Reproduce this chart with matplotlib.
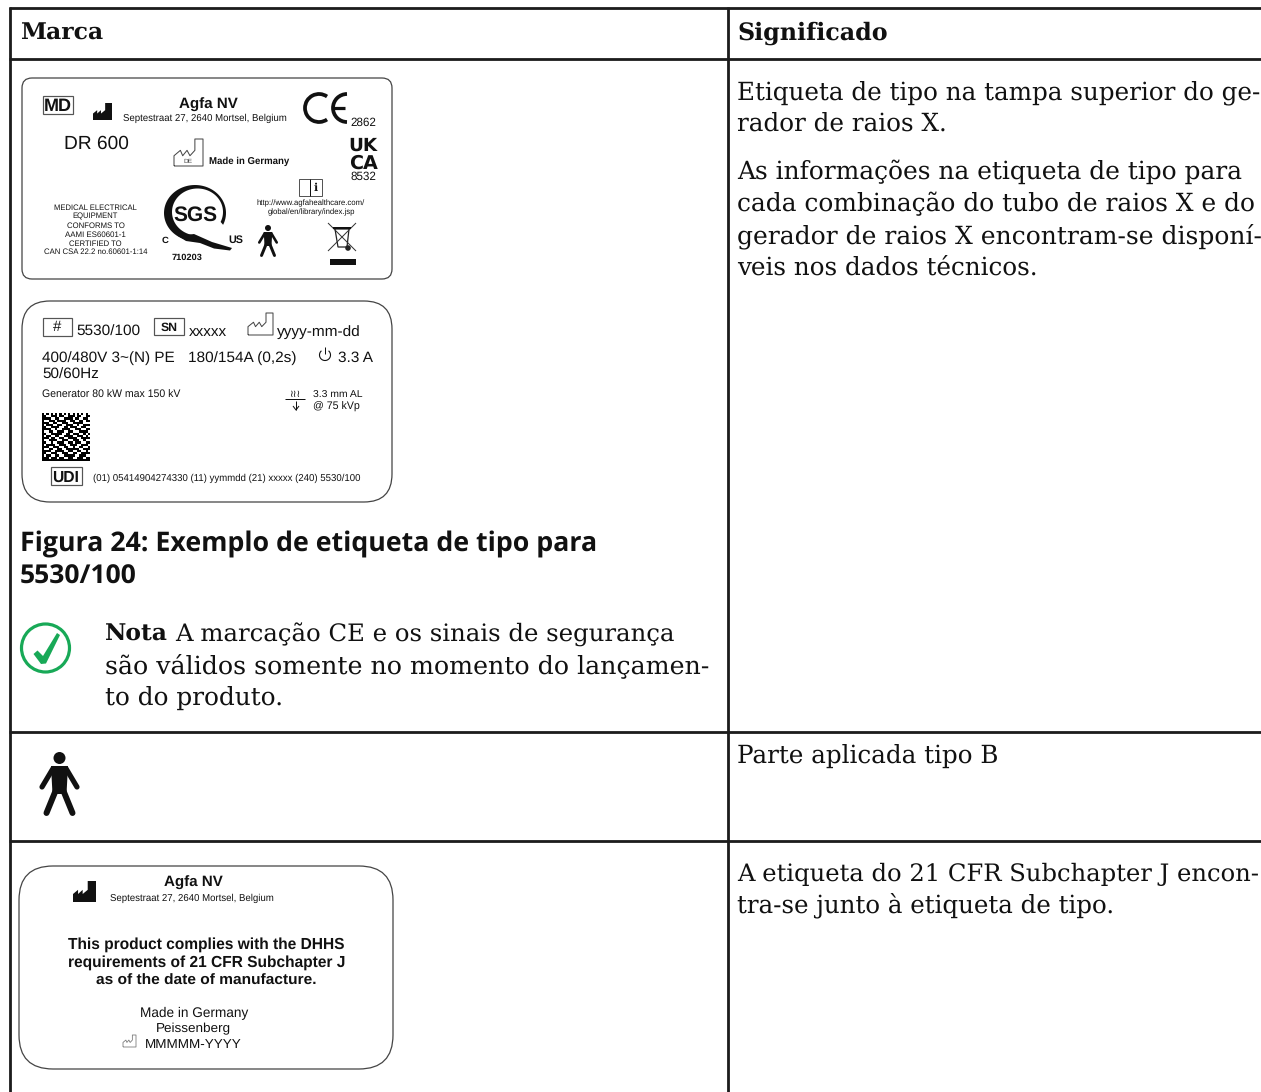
import matplotlib
matplotlib.use("Agg")
import matplotlib.pyplot as plt
from matplotlib.patches import FancyBboxPatch, Circle, Rectangle, Polygon, Arc
from matplotlib.lines import Line2D
import numpy as np

plt.rcParams["text.hinting"] = "no_hinting"

W, H = 1261, 1092
SERIF = "DejaVu Serif"
SANS = "Liberation Sans"
CAPTION_FONT = "Open Sans"

headers = ["Marca", "Significado"]
row_lines = [8, 59, 732, 841]
col_lines = [10, 728]
caption = ["Figura 24: Exemplo de etiqueta de tipo para", "5530/100"]
note_bold = "Nota"
note_lines = ["A marcação CE e os sinais de segurança", "são válidos somente no momento do lançamen-", "to do produto."]
right_1a = ["Etiqueta de tipo na tampa superior do ge-", "rador de raios X."]
right_1b = ["As informações na etiqueta de tipo para", "cada combinação do tubo de raios X e do", "gerador de raios X encontram-se disponí-", "veis nos dados técnicos."]
right_2 = ["Parte aplicada tipo B"]
right_3 = ["A etiqueta do 21 CFR Subchapter J encon-", "tra-se junto à etiqueta de tipo."]
medical = ["MEDICAL ELECTRICAL", "EQUIPMENT", "CONFORMS TO", "AAMI ES60601-1", "CERTIFIED TO", "CAN CSA 22.2 no.60601-1:14"]
dhhs = ["This product complies with the DHHS", "requirements of 21 CFR Subchapter J", "as of the date of manufacture."]
matrix = [
 "1010101010101010101010",
 "1100111011001110110011",
 "1111001100111101100110",
 "1001110111100110011011",
 "1110011001110011111000",
 "1011100110011100100111",
 "1100111100110111001100",
 "1111001001111001110011",
 "1001100111001100011110",
 "1100111110011011100101",
 "1011001100111100111010",
 "1110110011001111001111",
 "1001111001110011100100",
 "1100100111001101110011",
 "1011110011100111001110",
 "1110011100110010011001",
 "1001100110011111100111",
 "1111001111001100110010",
 "1100111001110011001111",
 "1011001100111110011100",
 "1110111011001100111011",
 "1111111111111111111111"]

fig = plt.figure(figsize=(W/100, H/100), dpi=100)
ax = fig.add_axes([0, 0, 1, 1])
ax.set_xlim(0, W); ax.set_ylim(H, 0); ax.axis("off")
renderer = fig.canvas.get_renderer()

def T(x, y, s, px, font=SANS, bold=False, ha="left", color="#111111", w=None, **kw):
    t = ax.text(x, y + 0.36*px, s, fontsize=px*0.72, family=font,
                weight="bold" if bold else "normal", ha=ha, va="baseline", color=color, **kw)
    if w is not None:
        for _ in range(3):
            t.set_fontsize(t.get_fontsize() * w / t.get_window_extent(renderer).width)
    return t

def L(xs, ys, lw=1.0, color="#111111", **kw):
    ax.add_line(Line2D(xs, ys, lw=lw*0.72, color=color, solid_capstyle=kw.pop("cap", "butt"), **kw))

def card(x0, y0, x1, y1, r, color="#444444"):
    ax.add_patch(FancyBboxPatch((x0+r, y0+r), x1-x0-2*r, y1-y0-2*r, boxstyle=f"round,pad={r},rounding_size={r}",
                                fc="white", ec=color, lw=0.9))

def box(x0, y0, x1, y1, color="#555555", lw=1.2):
    ax.add_patch(Rectangle((x0, y0), x1-x0, y1-y0, fc="white", ec=color, lw=lw*0.72))

def factory_solid(x0, y0, x1, y1):
    w, h = x1-x0, y1-y0
    pts = [(0,1),(0,.62),(.22,.42),(.22,.62),(.42,.42),(.42,.62),(.64,.42),(.64,0),(1,0),(1,1)]
    ax.add_patch(Polygon([(x0+a*w, y0+b*h) for a,b in pts], fc="#111111", ec="none"))

def factory_outline(x0, y0, x1, y1, color="#444444", lw=1.0):
    w, h = x1-x0, y1-y0
    pts = [(0,1),(0,.62),(.22,.42),(.3,.62),(.45,.42),(.55,.62),(.72,.42),(.72,0),(1,0),(1,1),(0,1)]
    L([x0+a*w for a,b in pts], [y0+b*h for a,b in pts], lw=lw, color=color)

def person(cx, y0, y1, lw):
    s = (y1-y0)/64
    ax.add_patch(Circle((cx, y0+6*s), 6*s, fc="#111111", ec="none"))
    ax.add_patch(Polygon([(cx-8.5*s, y0+14*s),(cx+8.5*s, y0+14*s),(cx+7*s, y0+42*s),(cx-7*s, y0+42*s)], fc="#111111", ec="none"))
    L([cx-6.5*s, cx-17.5*s], [y0+16.5*s, y0+35*s], lw=lw, cap="round")
    L([cx+6.5*s, cx+17.5*s], [y0+16.5*s, y0+35*s], lw=lw, cap="round")
    L([cx-3.6*s, cx-13*s], [y0+38*s, y0+61*s], lw=lw*1.15, cap="round")
    L([cx+3.6*s, cx+13*s], [y0+38*s, y0+61*s], lw=lw*1.15, cap="round")

# ---- table grid
for y in row_lines:
    L([8.5, W], [y, y], lw=2.8, color="#1c1c1c")
for x in col_lines:
    L([x, x], [7, H], lw=2.8, color="#1c1c1c")

BODY = 25
T(20, 31, headers[0], BODY, SERIF, True, w=83)
T(737, 31, headers[1], BODY, SERIF, True, w=150)
right_blocks = (((90, 122), right_1a, (523, 210)),
                ((170, 202, 234, 266), right_1b, (506, 516, 523, 300)),
                ((754,), right_2, (262,)),
                ((872, 904), right_3, (523, 378)))
for ys, lines, ws in right_blocks:
    for y, s, tw in zip(ys, lines, ws):
        T(737, y, s, BODY, SERIF, w=tw)

for y, s, tw in zip((542, 574), caption, (577, 117)):
    T(20, y, s, 27, CAPTION_FONT, True, w=tw)

T(105, 632, note_bold, BODY, SERIF, True, w=63)
T(175, 632, note_lines[0], BODY, SERIF, w=500)
T(105, 664, note_lines[1], BODY, SERIF, w=603)
T(105, 696, note_lines[2], BODY, SERIF, w=178)

ax.add_patch(Circle((45.5, 648), 24, fc="white", ec="#18a957", lw=2.3))
ax.add_patch(Polygon([(33.5,654),(37.5,650.5),(43,656),(57,633),(60,635),(46,663.5),(41,664)], fc="#18a957", ec="none"))

person(59.5, 752, 816, 5.2)

# ---- card 1
card(22, 78, 392, 279, 10)
box(42.5, 95.5, 73, 114)
T(57.5, 105, "MD", 18, SANS, True, ha="center", w=28)
factory_solid(93, 103, 112, 120)
T(208.5, 103, "Agfa NV", 15, SANS, True, ha="center", w=59)
T(204.5, 117.5, "Septestraat 27, 2640 Mortsel, Belgium", 10, ha="center", w=163)
ax.add_patch(Arc((319, 108), 28, 28, theta1=55, theta2=305, lw=2.7, color="#111111"))
ax.add_patch(Arc((347, 108), 28, 28, theta1=90, theta2=270, lw=2.7, color="#111111"))
L([333, 345], [108, 108], lw=3.2)
T(350, 122, "2862", 12, w=26)
T(64, 142, "DR 600", 19.5, w=65)
factory_outline(174, 139, 203, 166)
T(188, 160.5, "DE", 6.5, ha="center", color="#444444")
T(209, 160, "Made in Germany", 9.8, SANS, True, w=80)
T(363, 144, "UK", 20, "DejaVu Sans", True, ha="center", w=29)
T(363, 161.5, "CA", 20, "DejaVu Sans", True, ha="center", w=29)
T(363, 176, "8532", 12, ha="center", w=26)
box(299, 179, 322, 196, lw=1)
L([310, 310], [179, 196], lw=1)
T(316, 187.5, "i", 11, SERIF, True, ha="center")
T(311, 202, "http://www.agfahealthcare.com/", 8, ha="center", w=108)
T(311, 211, "global/en/library/index.jsp", 8, ha="center", w=87)
for y, s, tw in zip((207.5, 216, 225, 234, 243, 251.5), medical, (83, 45, 58, 61, 53, 103)):
    T(95.5, y, s, 8, ha="center", w=tw)
# Q of the SGS mark
th = np.radians(np.linspace(25, -262, 80))
th2 = th[::-1]
ring = np.r_[np.c_[195 + 31*np.cos(th), 213 + 28*np.sin(th)], np.c_[197.5 + 25.5*np.cos(th2), 212 + 23.5*np.sin(th2)]]
ax.add_patch(Polygon(ring, fc="#111111", ec="none"))
ax.add_patch(Polygon([(178,236),(194,234),(212,242),(232,248),(230,250.5),(214,248.5),(200,243),(186,241)], fc="#111111", ec="none"))
T(195, 212, "SGS", 24, SANS, True, ha="center", w=44)
T(165, 239, "C", 9.5, SANS, True, ha="center")
T(236, 239, "US", 10.5, SANS, True, ha="center", w=15)
T(187, 256, "710203", 9.5, SANS, True, ha="center", w=31)
person(268, 225, 257, 2.6)
L([328, 356], [223, 251], lw=1, color="#333333")
L([356, 328], [223, 251], lw=1, color="#333333")
ax.add_patch(Polygon([(335,229),(349,229),(347,247),(338,247)], fc="none", ec="#222222", lw=0.9))
L([333, 351], [228, 228], lw=2)
ax.add_patch(Circle((348, 248), 2.8, fc="#222222", ec="none"))
ax.add_patch(Rectangle((330, 258.5), 26, 6.5, fc="#111111", ec="none"))

# ---- card 2
card(22, 301, 392, 502, 28)
box(42.5, 317.5, 72, 336)
T(57, 326, "#", 15, ha="center")
T(76, 330, "5530/100", 15, w=64)
box(153.5, 317.5, 184, 335)
T(169, 326, "SN", 12.5, SANS, True, ha="center", w=17)
T(189, 331, "xxxxx", 15, w=38)
factory_outline(248, 313, 273, 335, lw=1)
T(277, 330, "yyyy-mm-dd", 15, w=84)
T(42, 356, "400/480V 3~(N) PE", 15, w=133)
T(188, 356, "180/154A (0,2s)", 15, w=109)
ax.add_patch(Arc((325, 355), 11, 11, theta1=-50, theta2=230, lw=0.8, color="#111111"))
L([325, 325], [347, 354], lw=1)
T(338, 356, "3.3 A", 15, w=35)
T(42, 373, "50/60Hz", 15, w=57)
T(42, 394, "Generator 80 kW max 150 kV", 10.4, w=139)
L([285, 305], [399, 399], lw=1)
T(296, 393, "≀≀≀", 10, "DejaVu Sans", ha="center")
L([296, 296], [401, 410], lw=1)
L([293, 296, 299], [406, 410, 406], lw=1)
T(313, 394, "3.3 mm AL", 10.4, w=50)
T(313, 406, "@ 75 kVp", 10.4, w=47)
ax.imshow(np.array([[1-int(c) for c in r] for r in matrix]), cmap="gray", extent=(42, 90, 461, 413),
          interpolation="nearest", aspect="auto", zorder=2)
ax.set_xlim(0, W); ax.set_ylim(H, 0)
box(50.5, 467, 82, 485)
T(66, 476, "UDI", 15.5, SANS, True, ha="center", w=27)
T(93, 478, "(01) 05414904274330 (11) yymmdd (21) xxxxx (240) 5530/100", 9.5, w=267)

# ---- card 3
card(19, 866, 393, 1069, 34)
factory_solid(73, 881, 96, 902)
T(193, 881, "Agfa NV", 16, SANS, True, ha="center", w=59)
T(191.5, 897, "Septestraat 27, 2640 Mortsel, Belgium", 10, ha="center", w=163)
for y, s, tw in zip((943, 961, 979), dhhs, (276, 277, 220)):
    T(206.5, y, s, 15.2, SANS, True, ha="center", w=tw)
T(194, 1012, "Made in Germany", 14, ha="center", w=108)
T(193.5, 1027.5, "Peissenberg", 14, ha="center", w=75)
factory_outline(123, 1035, 136, 1047, color="#777777", lw=0.8)
T(193.5, 1043, "MMMMM-YYYY", 14, ha="center", w=97)

fig.savefig("out.png", dpi=100, facecolor="white")
